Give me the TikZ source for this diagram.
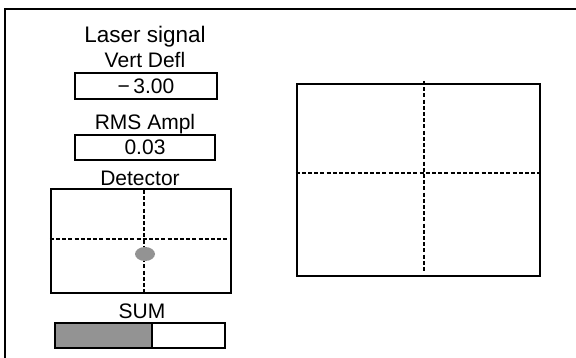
\documentclass[tikz,border=0pt]{standalone}
\usepackage{fontspec}
\setmainfont{Liberation Sans}
\usetikzlibrary{shapes.geometric}
\begin{document}
\begin{tikzpicture}[
    x=1pt, y=-1pt,
    every node/.style={font=\fontsize{21}{24}\selectfont, inner sep=0pt},
    label/.style={
        anchor=base
    },
    valuebox/.style={
        rectangle,
        draw,
        line width=2.4pt
    },
    screen/.style={
        rectangle,
        draw,
        line width=2.8pt
    },
    cross/.style={
        draw,
        line width=2.6pt,
        dash pattern=on 4pt off 2.2pt
    }
]
\useasboundingbox (0,0) rectangle (576,358);

% Cornice
\draw[line width=2.6pt] (576,9) -- (5,9) -- (5,358);

% Etichette e valori
\node[label, font=\fontsize{22.5}{24}\selectfont] (title) at (145,42.5) {Laser signal};
\node[label] (deflname) at (145,67.5) {Vert Defl};
\node[valuebox, minimum width=142pt, minimum height=26pt] (defl) at (146,86) {−\,3.00};
\node[label] (rmsname) at (145,130) {RMS Ampl};
\node[valuebox, minimum width=140pt, minimum height=25pt] (rms) at (145,147.5) {0.03};

% Detector
\node[label] (detname) at (140,186) {Detector};
\node[valuebox, minimum width=180pt, minimum height=104pt] (det) at (141,241) {};
\draw[cross] (144,190) -- (144,292);
\draw[cross] (det.west |- 0,239) -- (det.east |- 0,239);
\node[ellipse, fill=gray!85, minimum width=20pt, minimum height=14pt] (spot) at (145,254) {};

% Somma
\node[label] (sumname) at (142,319) {SUM};
\fill[gray!85] (55,323) rectangle (152,348);
\node[valuebox, minimum width=170pt, minimum height=25pt] (sum) at (140,335.5) {};
\draw[line width=2.4pt] (152,323) -- (152,348);

% Schermo
\node[screen, minimum width=243pt, minimum height=192pt] (scope) at (418.5,180) {};
\draw[cross] (424,81) -- (424,272);
\draw[cross] (scope.west |- 0,173) -- (scope.east |- 0,173);

\end{tikzpicture}
\end{document}
